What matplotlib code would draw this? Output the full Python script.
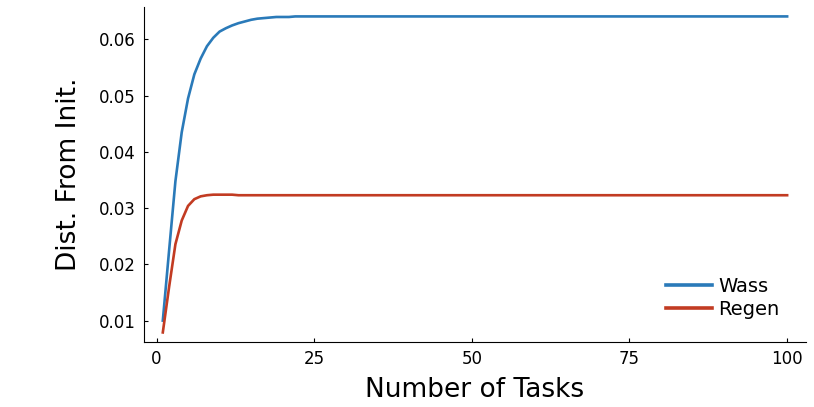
import matplotlib
matplotlib.use("Agg")
import matplotlib.pyplot as plt
import numpy as np

# -----------------------------
# DATA
# -----------------------------
tasks = list(range(1, 101))

wass = [
    0.0100, 0.0225, 0.0348, 0.0435, 0.0495, 0.0538, 0.0566, 0.0588, 0.0603, 0.0614,
    0.0620, 0.0625, 0.0629, 0.0632, 0.0635, 0.0637, 0.0638, 0.0639, 0.0640, 0.0640,
    0.0640, 0.0641, 0.0641, 0.0641, 0.0641, 0.0641, 0.0641, 0.0641, 0.0641, 0.0641,
    0.0641, 0.0641, 0.0641, 0.0641, 0.0641, 0.0641, 0.0641, 0.0641, 0.0641, 0.0641,
    0.0641, 0.0641, 0.0641, 0.0641, 0.0641, 0.0641, 0.0641, 0.0641, 0.0641, 0.0641,
    0.0641, 0.0641, 0.0641, 0.0641, 0.0641, 0.0641, 0.0641, 0.0641, 0.0641, 0.0641,
    0.0641, 0.0641, 0.0641, 0.0641, 0.0641, 0.0641, 0.0641, 0.0641, 0.0641, 0.0641,
    0.0641, 0.0641, 0.0641, 0.0641, 0.0641, 0.0641, 0.0641, 0.0641, 0.0641, 0.0641,
    0.0641, 0.0641, 0.0641, 0.0641, 0.0641, 0.0641, 0.0641, 0.0641, 0.0641, 0.0641,
    0.0641, 0.0641, 0.0641, 0.0641, 0.0641, 0.0641, 0.0641, 0.0641, 0.0641, 0.0641,
]

regen = [
    0.0079, 0.0160, 0.0236, 0.0278, 0.0304, 0.0316, 0.0321, 0.0323, 0.0324, 0.0324,
    0.0324, 0.0324, 0.0323, 0.0323, 0.0323, 0.0323, 0.0323, 0.0323, 0.0323, 0.0323,
    0.0323, 0.0323, 0.0323, 0.0323, 0.0323, 0.0323, 0.0323, 0.0323, 0.0323, 0.0323,
    0.0323, 0.0323, 0.0323, 0.0323, 0.0323, 0.0323, 0.0323, 0.0323, 0.0323, 0.0323,
    0.0323, 0.0323, 0.0323, 0.0323, 0.0323, 0.0323, 0.0323, 0.0323, 0.0323, 0.0323,
    0.0323, 0.0323, 0.0323, 0.0323, 0.0323, 0.0323, 0.0323, 0.0323, 0.0323, 0.0323,
    0.0323, 0.0323, 0.0323, 0.0323, 0.0323, 0.0323, 0.0323, 0.0323, 0.0323, 0.0323,
    0.0323, 0.0323, 0.0323, 0.0323, 0.0323, 0.0323, 0.0323, 0.0323, 0.0323, 0.0323,
    0.0323, 0.0323, 0.0323, 0.0323, 0.0323, 0.0323, 0.0323, 0.0323, 0.0323, 0.0323,
    0.0323, 0.0323, 0.0323, 0.0323, 0.0323, 0.0323, 0.0323, 0.0323, 0.0323, 0.0323,
]

x_ticks = [0, 25, 50, 75, 100]
y_ticks = [0.01, 0.02, 0.03, 0.04, 0.05, 0.06]

# -----------------------------
# PLOT
# -----------------------------
fig = plt.figure(figsize=(8.14, 4.07), dpi=100)
ax = fig.add_axes([0.177, 0.160, 0.813, 0.823])

ax.plot(tasks, wass, color="#2a7ab9", lw=1.9, label="Wass")
ax.plot(tasks, regen, color="#c23b22", lw=1.9, label="Regen")

ax.set_xlim(-1.97, 102.97)
ax.set_ylim(0.00622, 0.06579)
ax.set_xticks(x_ticks)
ax.set_yticks(y_ticks)
ax.set_yticklabels([f"{v:.2f}" for v in y_ticks])

ax.spines["top"].set_visible(False)
ax.spines["right"].set_visible(False)
ax.tick_params(direction="in", length=3, labelsize=12, pad=6)

ax.set_xlabel("Number of Tasks", fontsize=19, labelpad=6)
ax.set_ylabel("Dist. From Init.", fontsize=19, labelpad=12)

leg = ax.legend(loc="lower right", bbox_to_anchor=(0.972, 0.045), borderaxespad=0,
                frameon=False, fontsize=14, handlelength=2.4, handletextpad=0.3,
                labelspacing=0.2)
for line in leg.get_lines():
    line.set_linewidth(2.6)

fig.savefig("out.png", dpi=100)
